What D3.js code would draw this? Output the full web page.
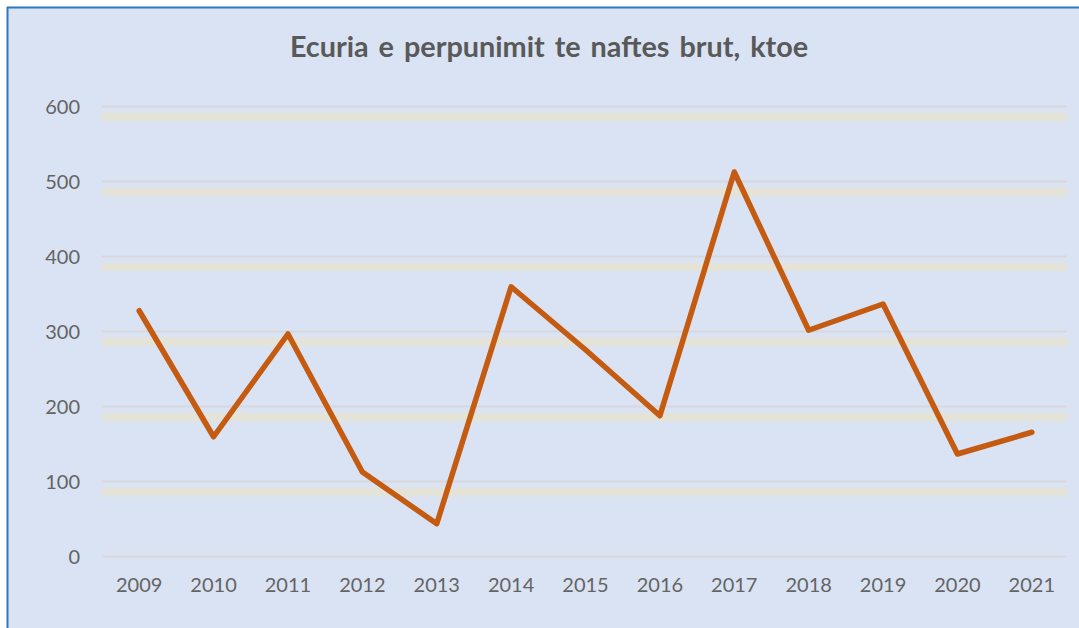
<!DOCTYPE html>
<html>
<head>
<meta charset="utf-8">
<script src="https://cdn.jsdelivr.net/npm/d3@7"></script>
<style>
  html, body { margin: 0; padding: 0; background: #ffffff; }
  svg { display: block; }
</style>
</head>
<body>
<svg id="chart" width="1079" height="628"></svg>
<script>
const title = "Ecuria e perpunimit te naftes brut, ktoe";
const years = ["2009","2010","2011","2012","2013","2014","2015","2016","2017","2018","2019","2020","2021"];
const values = [327, 159, 296, 112, 43, 359, 275, 187, 512, 301, 336, 136, 165];
const yTicks = [0, 100, 200, 300, 400, 500, 600];

const W = 1079, H = 628;
const svg = d3.select("#chart");

const defs = svg.append("defs");
defs.append("filter").attr("id", "blur").attr("x", "-5%").attr("y", "-100%").attr("width", "110%").attr("height", "300%")
  .append("feGaussianBlur").attr("stdDeviation", 1.5);

// frame
svg.append("rect").attr("x", 7).attr("y", 7).attr("width", W - 7).attr("height", H - 7)
  .attr("fill", "#dae3f3");
svg.append("line").attr("x1", 7).attr("x2", W).attr("y1", 7.5).attr("y2", 7.5)
  .attr("stroke", "#2e78c2").attr("stroke-width", 2);
svg.append("line").attr("x1", 7.5).attr("x2", 7.5).attr("y1", 7).attr("y2", H)
  .attr("stroke", "#2e78c2").attr("stroke-width", 2);

const x = d3.scaleBand().domain(years).range([102, 1069]);
const y = d3.scaleLinear().domain([0, 600]).range([556, 106]);

// gridlines with beige shadow band
const grid = svg.append("g");
yTicks.forEach(t => {
  if (t > 0) {
    grid.append("rect")
      .attr("x", 102).attr("width", 965)
      .attr("y", y(t) + 7).attr("height", 8)
      .attr("fill", "#e5e3d5").attr("filter", "url(#blur)");
  }
  grid.append("line")
    .attr("x1", 102).attr("x2", 1067)
    .attr("y1", y(t) + 0.5).attr("y2", y(t) + 0.5)
    .attr("stroke", t === 0 ? "#dcdad6" : "#d8d8dc").attr("stroke-width", 2);
});

// y axis
const yAxis = d3.axisLeft(y).tickValues(yTicks).tickSize(0).tickPadding(0);
const gy = svg.append("g").attr("transform", "translate(80,0)").call(yAxis);
gy.select(".domain").remove();
gy.selectAll("text").attr("font-family", "Lato, 'Open Sans', sans-serif")
  .attr("font-size", 20).attr("fill", "#646464").attr("dy", "0.36em");

// x axis
const xAxis = d3.axisBottom(x).tickSize(0).tickPadding(0);
const gx = svg.append("g").attr("transform", "translate(0,578)").call(xAxis);
gx.select(".domain").remove();
gx.selectAll("text").attr("font-family", "Lato, 'Open Sans', sans-serif")
  .attr("font-size", 20).attr("fill", "#646464").attr("dy", "0.72em");

// line
const line = d3.line()
  .x((d, i) => x(years[i]) + x.bandwidth() / 2)
  .y(d => y(d));
svg.append("path").datum(values)
  .attr("d", line)
  .attr("fill", "none")
  .attr("stroke", "#c55a11")
  .attr("stroke-width", 5.5)
  .attr("stroke-linejoin", "round")
  .attr("stroke-linecap", "round");

// title
const tt = svg.append("text")
  .attr("x", 549).attr("y", 57)
  .attr("text-anchor", "middle")
  .attr("font-family", "Lato, 'Open Sans', sans-serif")
  .attr("font-weight", "bold")
  .attr("font-size", 24)
  .attr("fill", "#595959")
  .attr("word-spacing", 3)
  .text(title);
const len = tt.node().getComputedTextLength();
tt.attr("font-size", 24 * 522 / len);
</script>
</body>
</html>
